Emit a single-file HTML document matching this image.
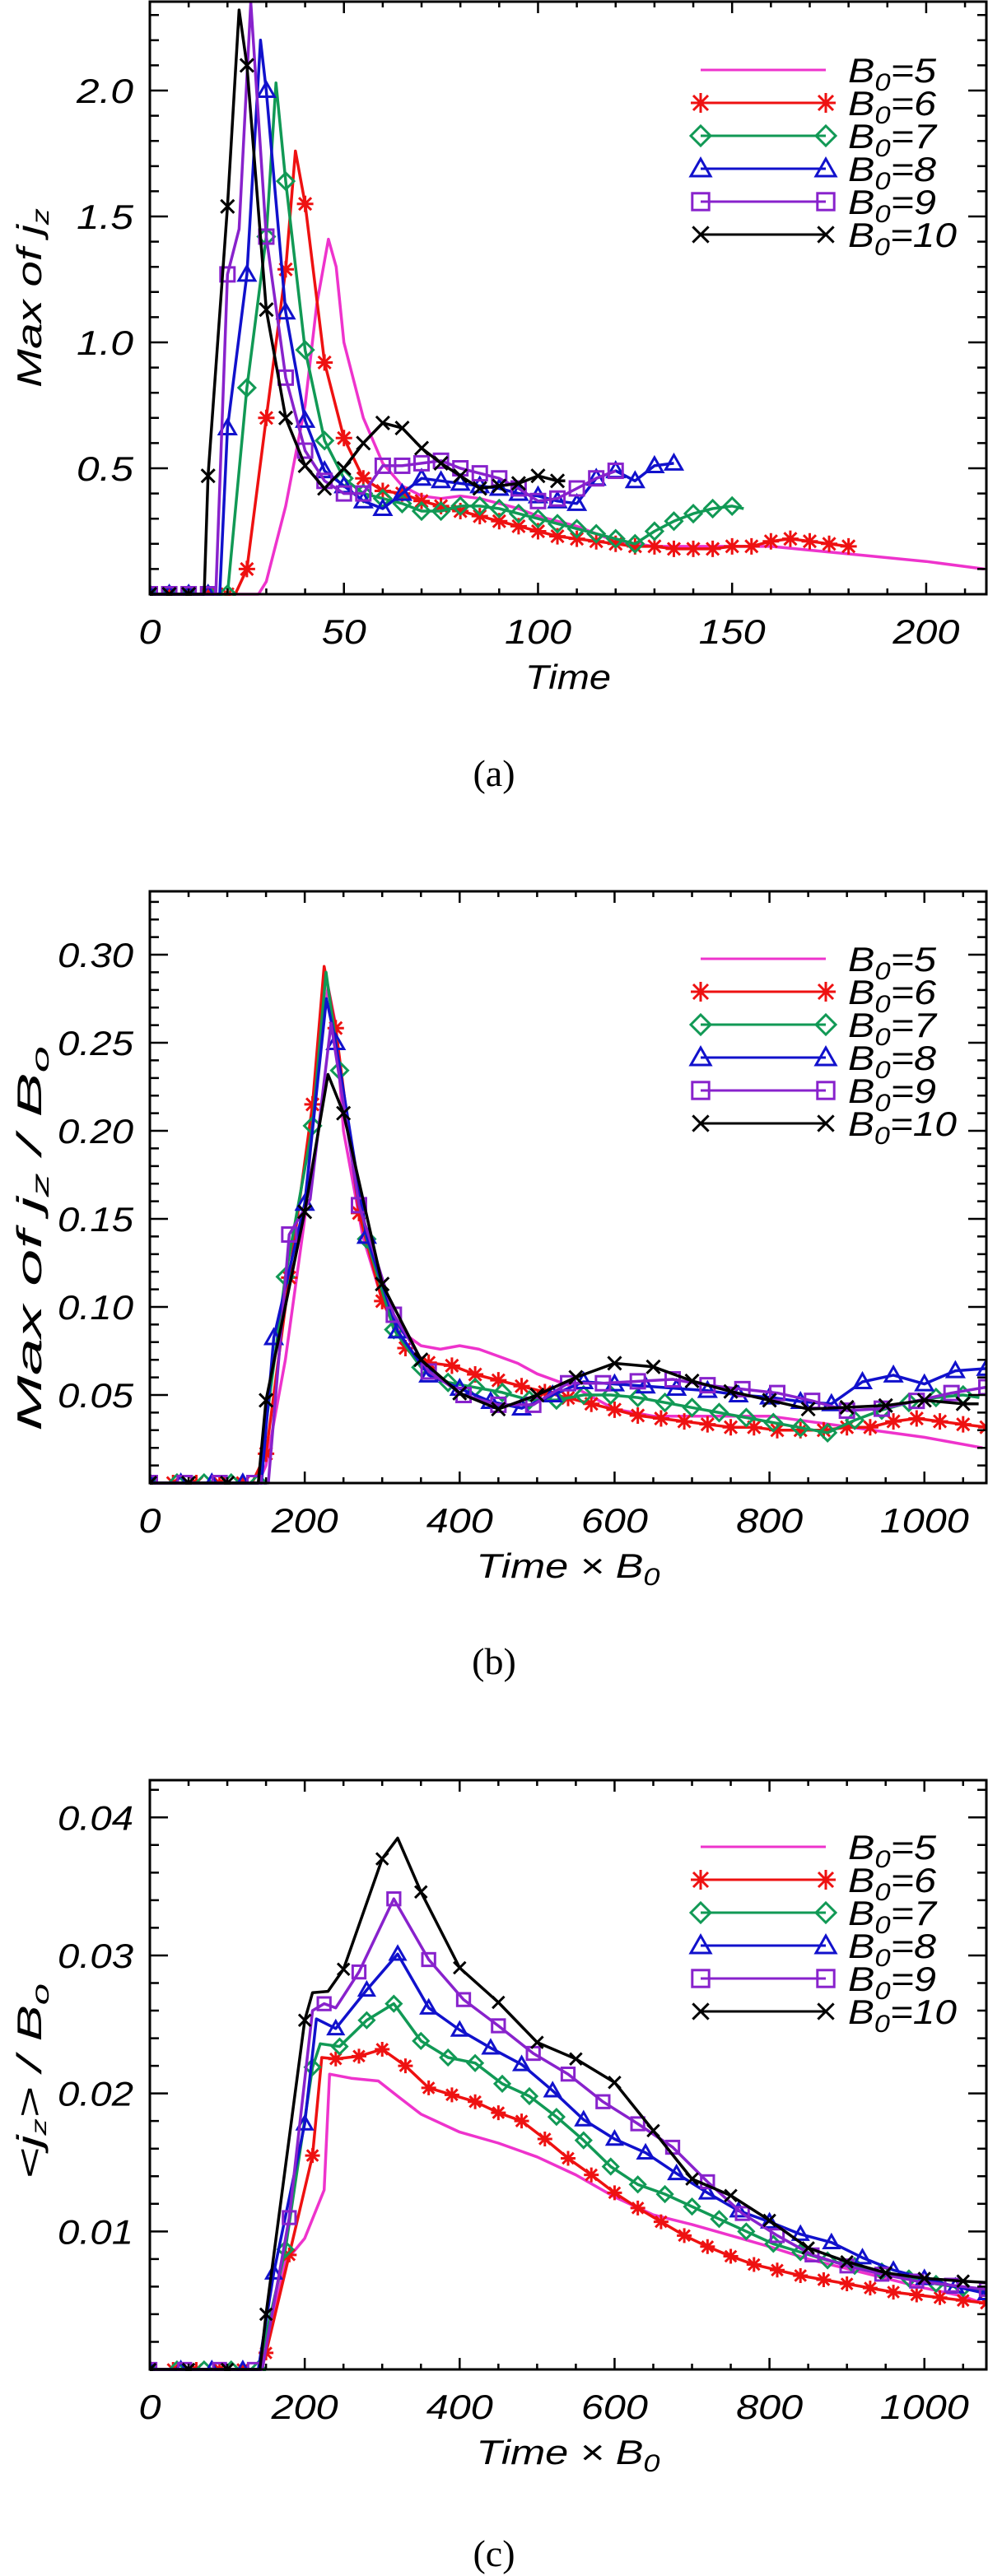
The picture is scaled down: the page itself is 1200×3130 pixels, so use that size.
<!DOCTYPE html>
<html><head><meta charset="utf-8"><style>
html,body{margin:0;padding:0;background:#fff;width:1200px;height:3130px;overflow:hidden}
svg text{font-family:"Liberation Sans",sans-serif;font-style:italic;fill:#000}
</style></head><body>
<svg id="fig" width="1200" height="3130" viewBox="0 0 1200 3130" xmlns="http://www.w3.org/2000/svg"></svg>
<script>
// ===== Panel (a) data: Max of j_z vs Time =====
const aT5=[0,5,10,15,20,25,28,30,35,40,43,46,48,50,55,60,65,70,75,80,85,90,95,100,110,120,130,150,160,180,200,215];
const aV5=[0,0,0,0,0,0,0,0.05,0.35,0.75,1.15,1.41,1.3,1.0,0.70,0.52,0.43,0.39,0.38,0.39,0.38,0.36,0.34,0.31,0.27,0.21,0.19,0.19,0.19,0.16,0.13,0.10];
const aT6=[0,5,10,15,20,22,25,30,35,37.5,40,45,50,55,60,65,70,75,80,85,90,95,100,105,110,115,120,125,130,135,140,145,150,155,160,165,170,175,180];
const aV6=[0,0,0,0,0,0,0.10,0.70,1.29,1.76,1.55,0.92,0.62,0.46,0.41,0.40,0.37,0.35,0.33,0.31,0.29,0.27,0.25,0.23,0.22,0.21,0.20,0.19,0.19,0.18,0.18,0.18,0.19,0.19,0.21,0.22,0.21,0.20,0.19];
const aT7=[0,5,10,15,20,25,30,32.5,35,40,45,50,55,60,65,70,75,80,85,90,95,100,105,110,115,120,125,130,135,140,145,150,153];
const aV7=[0,0,0,0,0,0.82,1.42,2.03,1.64,0.97,0.61,0.46,0.40,0.38,0.36,0.33,0.33,0.35,0.35,0.34,0.32,0.30,0.28,0.26,0.24,0.22,0.20,0.25,0.29,0.32,0.34,0.35,0.34];
const aT8=[0,5,10,15,18,20,25,28.5,30,35,40,45,50,55,60,65,70,75,80,85,90,95,100,105,110,115,120,125,130,135];
const aV8=[0,0,0,0,0,0.66,1.27,2.20,2.00,1.12,0.69,0.49,0.43,0.37,0.34,0.40,0.46,0.45,0.44,0.43,0.42,0.40,0.39,0.37,0.36,0.46,0.49,0.45,0.51,0.52];
const aT9=[0,5,10,15,17,20,23,26,30,35,40,45,50,55,60,65,70,75,80,85,90,95,100,105,110,115,120];
const aV9=[0,0,0,0,0,1.27,1.45,2.35,1.42,0.86,0.57,0.45,0.40,0.40,0.51,0.51,0.52,0.53,0.50,0.48,0.46,0.42,0.37,0.38,0.42,0.46,0.49];
const aT10=[0,5,10,14,15,20,23,25,30,35,40,45,50,55,60,65,70,75,80,85,90,95,100,105,107];
const aV10=[0,0,0,0,0.47,1.54,2.32,2.10,1.13,0.70,0.51,0.42,0.50,0.60,0.68,0.66,0.58,0.52,0.47,0.42,0.43,0.44,0.47,0.45,0.45];

// ===== Panel (c) data: <j_z>/B0 vs Time x B0 =====
const cX5=[0,50,100,145,175,200,225,232,260,295,320,350,400,450,500,550,600,650,700,750,800,850,900,950,1000,1050,1080];
const cY5=[0,0,0,0,0.0078,0.0095,0.0130,0.0214,0.0211,0.0209,0.0198,0.0185,0.0172,0.0164,0.0154,0.0141,0.0125,0.0112,0.0105,0.0097,0.0089,0.0080,0.0073,0.0066,0.0059,0.0053,0.0047];
const cX6=[0,30,60,90,120,140,150,180,210,222,240,270,300,330,360,390,420,450,480,510,540,570,600,630,660,690,720,750,780,810,840,870,900,930,960,990,1020,1050,1080];
const cY6=[0,0,0,0,0,0,0.0012,0.0083,0.0155,0.0226,0.0225,0.0227,0.0232,0.0220,0.0204,0.0199,0.0194,0.0186,0.0180,0.0167,0.0153,0.0141,0.0128,0.0117,0.0107,0.0097,0.0089,0.0082,0.0076,0.0072,0.0068,0.0065,0.0062,0.0059,0.0056,0.0054,0.0052,0.0050,0.0048];
const cX7=[0,35,70,105,140,175,210,220,245,280,315,350,385,420,455,490,525,560,595,630,665,700,735,770,805,840,875,910,945,980,1015,1050,1080];
const cY7=[0,0,0,0,0,0.0087,0.0219,0.0236,0.0234,0.0253,0.0265,0.0238,0.0226,0.0222,0.0207,0.0198,0.0183,0.0166,0.0147,0.0134,0.0127,0.0118,0.0109,0.0100,0.0091,0.0085,0.0079,0.0075,0.0071,0.0066,0.0062,0.0059,0.0057];
const cX8=[0,40,80,120,140,160,200,215,240,280,320,360,400,440,480,520,560,600,640,680,720,760,800,840,880,920,960,1000,1040,1080];
const cY8=[0,0,0,0,0,0.0070,0.0178,0.0254,0.0247,0.0275,0.0301,0.0262,0.0246,0.0233,0.0221,0.0202,0.0181,0.0167,0.0157,0.0142,0.0128,0.0115,0.0107,0.0098,0.0092,0.0081,0.0072,0.0066,0.0060,0.0055];
const cX9=[0,45,90,135,145,180,210,225,240,270,315,360,405,450,495,540,585,630,675,720,765,810,855,900,945,990,1035,1080];
const cY9=[0,0,0,0,0,0.0110,0.0260,0.0265,0.0262,0.0288,0.0341,0.0297,0.0268,0.0249,0.0229,0.0214,0.0194,0.0178,0.0161,0.0136,0.0113,0.0097,0.0083,0.0075,0.0069,0.0064,0.0061,0.0058];
const cX10=[0,50,100,142,150,200,210,230,250,300,320,350,400,450,500,550,600,650,700,750,800,850,900,950,1000,1050,1080];
const cY10=[0,0,0,0,0.0040,0.0253,0.0273,0.0274,0.0290,0.0370,0.0385,0.0346,0.0291,0.0266,0.0237,0.0225,0.0208,0.0173,0.0138,0.0126,0.0108,0.0088,0.0078,0.0070,0.0066,0.0064,0.0063];

const bValues=[5,6,7,8,9,10];
const seriesColors=["#ee33cc","#ee1111","#119955","#1111cc","#8822cc","#000000"];
const seriesMarkers=["none","asterisk","diamond","triangle","square","cross"];

const NS="http://www.w3.org/2000/svg";
const fig=document.getElementById('fig');
function el(tag,attrs,parent){const e=document.createElementNS(NS,tag);for(const k in attrs)e.setAttribute(k,attrs[k]);(parent||fig).appendChild(e);return e;}

function marker(g,type,x,y,s,color){
  const h=s/2;let m;
  if(type==='asterisk'){m=el('path',{d:`M${x-h} ${y}H${x+h}M${x} ${y-h}V${y+h}M${x-h*0.75} ${y-h*0.75}L${x+h*0.75} ${y+h*0.75}M${x-h*0.75} ${y+h*0.75}L${x+h*0.75} ${y-h*0.75}`,stroke:color,'stroke-width':3,fill:'none'},g);}
  else if(type==='diamond'){m=el('path',{d:`M${x-h} ${y}L${x} ${y-h}L${x+h} ${y}L${x} ${y+h}Z`,stroke:color,'stroke-width':3,fill:'none'},g);}
  else if(type==='triangle'){m=el('path',{d:`M${x-h} ${y+h*0.75}L${x} ${y-h}L${x+h} ${y+h*0.75}Z`,stroke:color,'stroke-width':3,fill:'none'},g);}
  else if(type==='square'){m=el('rect',{x:x-h*0.85,y:y-h*0.85,width:h*1.7,height:h*1.7,stroke:color,'stroke-width':3,fill:'none'},g);}
  else if(type==='cross'){m=el('path',{d:`M${x-h*0.8} ${y-h*0.8}L${x+h*0.8} ${y+h*0.8}M${x-h*0.8} ${y+h*0.8}L${x+h*0.8} ${y-h*0.8}`,stroke:color,'stroke-width':3,fill:'none'},g);}
  if(m){}
}

function panel(cfg){
  const L=182,R=1198,T=cfg.top,B=cfg.bottom;
  const sx=v=>L+(v-cfg.xmin)/(cfg.xmax-cfg.xmin)*(R-L);
  const sy=v=>B-(v-cfg.ymin)/(cfg.ymax-cfg.ymin)*(B-T);
  const g=el('g',{});
  
  
  const cp='clip-'+cfg.id;
  const defs=el('defs',{},g);
  const c=el('clipPath',{id:cp},defs);el('rect',{x:L,y:T-2,width:R-L,height:B-T+4},c);
  const plot=el('g',{'clip-path':`url(#${cp})`},g);
  
  
  cfg.series.forEach((s,i)=>{
    const sg=el('g',{},plot);
    
    
    const pts=s.x.map((x,j)=>sx(x).toFixed(1)+','+sy(s.y[j]).toFixed(1)).join(' ');
    const pl=el('polyline',{points:pts,fill:'none',stroke:seriesColors[i],'stroke-width':3.5,'stroke-linejoin':'round'},sg);
    
    
    if(seriesMarkers[i]!=='none'){
      s.x.forEach((x,j)=>{
        const k=x/s.step;
        if(Math.abs(k-Math.round(k))<1e-6) marker(sg,seriesMarkers[i],sx(x),sy(s.y[j]),cfg.msize,seriesColors[i]);
      });
    }
  });
  const fr=el('rect',{x:L,y:T,width:R-L,height:B-T,fill:'none',stroke:'#000','stroke-width':3},g);
  
  
  let d='';
  for(let v=cfg.xmin;v<=cfg.xmax+1e-9;v+=cfg.xminor){const x=sx(v);const maj=Math.abs(v/cfg.xmajor-Math.round(v/cfg.xmajor))<1e-6;const len=maj?14:7;d+=`M${x} ${B}V${B-len}M${x} ${T}V${T+len}`;}
  for(let v=cfg.ymin;v<=cfg.ymax+1e-9;v+=cfg.yminor){const y=sy(v);const maj=Math.abs(v/cfg.ymajor-Math.round(v/cfg.ymajor))<1e-6;const len=maj?22:11;d+=`M${L} ${y}H${L+len}M${R} ${y}H${R-len}`;}
  const tk=el('path',{d:d,stroke:'#000','stroke-width':2.5,fill:'none'},g);
  
  
  cfg.xlabels.forEach(v=>{
    const t=el('text',{x:sx(v),y:B+60,'font-size':42,'text-anchor':'middle',textLength:String(v).length*27,lengthAdjust:'spacingAndGlyphs'},g);
    t.textContent=String(v);
    
    
  });
  cfg.ylabels.forEach(v=>{
    const t=el('text',{x:162,y:sy(parseFloat(v))+15,'font-size':42,'text-anchor':'end',textLength:v.length*23,lengthAdjust:'spacingAndGlyphs'},g);
    t.textContent=v;
    
    
  });
  const xt=el('text',{x:690,y:B+115,'font-size':42,'text-anchor':'middle',textLength:cfg.xtLen,lengthAdjust:'spacingAndGlyphs'},g);
  
  
  xt.innerHTML=cfg.xtitle;
  const yt=el('text',{x:0,y:0,'font-size':42,'text-anchor':'middle',textLength:cfg.ytLen,lengthAdjust:'spacingAndGlyphs',transform:`translate(50,${cfg.ytY}) rotate(-90)`},g);
  
  
  yt.innerHTML=cfg.ytitle;
  const lg=el('g',{},g);
  
  
  bValues.forEach((b,i)=>{
    const y=cfg.legTop+i*40;
    const e=el('g',{},lg);
    
    
    el('line',{x1:851,y1:y,x2:1003,y2:y,stroke:seriesColors[i],'stroke-width':3},e);
    if(seriesMarkers[i]!=='none'){marker(e,seriesMarkers[i],851,y,24,seriesColors[i]);marker(e,seriesMarkers[i],1003,y,24,seriesColors[i]);}
    const t=el('text',{x:1030,y:y+15,'font-size':42,textLength:b>=10?132:107,lengthAdjust:'spacingAndGlyphs'},e);
    t.innerHTML=`B<tspan font-size="30" dy="10">0</tspan><tspan dy="-10">=${b}</tspan>`;
  });
  const lab=el('text',{x:600,y:cfg.labelY,'font-size':46,'text-anchor':'middle',style:'font-family:"Liberation Serif",serif;font-style:normal'},fig);
  lab.textContent=cfg.label;
  
  
}

const aSeries=[[aT5,aV5],[aT6,aV6],[aT7,aV7],[aT8,aV8],[aT9,aV9],[aT10,aV10]];
panel({id:'a',name:'panel-a',top:2,bottom:722,xmin:0,xmax:215.5,ymin:0,ymax:2.353,xmajor:50,xminor:10,ymajor:0.5,yminor:0.1,
  xlabels:[0,50,100,150,200],ylabels:['0.5','1.0','1.5','2.0'],xtitle:'Time',xtLen:104,
  ytitle:'Max of j<tspan font-size="30" dy="9">z</tspan>',ytLen:218,ytY:362,
  legTop:85,labelY:955,label:'(a)',msize:20,
  series:aSeries.map(([t,v],i)=>({x:t,y:v,step:5}))});
panel({id:'b',name:'panel-b',top:1083,bottom:1802,xmin:0,xmax:1080,ymin:0,ymax:0.336,xmajor:200,xminor:50,ymajor:0.05,yminor:0.01,
  xlabels:[0,200,400,600,800,1000],ylabels:['0.05','0.10','0.15','0.20','0.25','0.30'],
  xtitle:'Time × B<tspan font-size="30" dy="9">0</tspan>',xtLen:223,
  ytitle:'Max of j<tspan font-size="30" dy="9">z</tspan><tspan dy="-9"> / B</tspan><tspan font-size="30" dy="9">o</tspan>',ytLen:468,ytY:1505,
  legTop:1165,labelY:2034,label:'(b)',msize:20,
  series:aSeries.map(([t,v],i)=>({x:t.map(q=>q*bValues[i]),y:v.map(q=>q/bValues[i]),step:5*bValues[i]}))});
const cSeries=[[cX5,cY5],[cX6,cY6],[cX7,cY7],[cX8,cY8],[cX9,cY9],[cX10,cY10]];
panel({id:'c',name:'panel-c',top:2163,bottom:2879,xmin:0,xmax:1080,ymin:0,ymax:0.0427,xmajor:200,xminor:50,ymajor:0.01,yminor:0.002,
  xlabels:[0,200,400,600,800,1000],ylabels:['0.01','0.02','0.03','0.04'],
  xtitle:'Time × B<tspan font-size="30" dy="9">0</tspan>',xtLen:223,
  ytitle:'&lt;j<tspan font-size="26" dy="6">z</tspan><tspan dy="-6">&gt; / B</tspan><tspan font-size="30" dy="9">o</tspan>',ytLen:238,ytY:2529,
  legTop:2244,labelY:3118,label:'(c)',msize:18,
  series:cSeries.map(([x,y],i)=>({x:x,y:y,step:5*bValues[i]}))});
</script>
</body></html>
